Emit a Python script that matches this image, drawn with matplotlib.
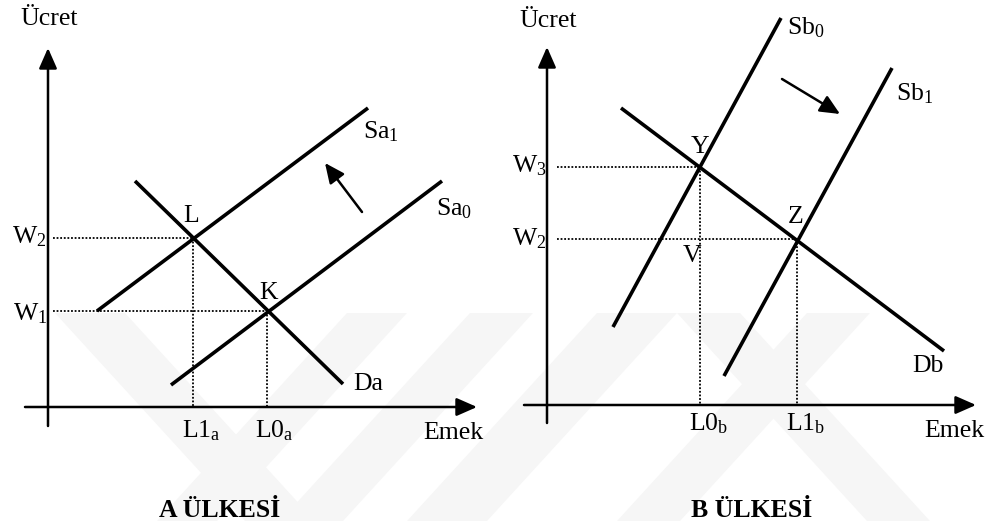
import matplotlib
matplotlib.use("Agg")
import matplotlib.pyplot as plt
from matplotlib.patches import Polygon

plt.rcParams["font.family"] = ["Liberation Serif", "DejaVu Serif"]
plt.rcParams["mathtext.fontset"] = "custom"
plt.rcParams["mathtext.rm"] = "Liberation Serif"
plt.rcParams["mathtext.it"] = "Liberation Serif:italic"

# --- diagram geometry (pixel coords, y down) ---
# panel A
axA_origin = (48, 407)
axA_ytop = 48
axA_xend = 477
sa1 = ([97, 368], [311, 108])
sa0 = ([171, 442], [385, 181])
da = ([135, 343], [181, 384])
pt_L = (193, 238)
pt_K = (267, 311)
shiftA = ((362, 212), (325, 163))

# panel B
axB_origin = (547, 405)
axB_ytop = 47
axB_xend = 976
sb0 = ([613, 781], [327, 18])
sb1 = ([724, 892], [376, 68])
db = ([621, 944], [108, 351])
pt_Y = (700, 167)
pt_Z = (797, 239)
shiftB = ((782, 79), (840, 114))

# faint watermark stripes (top x-range at y=313)
wm_back = [(55, 125), (677, 740)]
wm_fwd = [(347, 407), (470, 533), (597, 677), (807, 870)]

fig = plt.figure(figsize=(9.94, 5.21), dpi=100)
ax = fig.add_axes([0, 0, 1, 1])
ax.set_xlim(0, 994)
ax.set_ylim(521, 0)
ax.axis("off")

# watermark
for x0, x1 in wm_back:
    ax.add_patch(Polygon([(x0, 313), (x1, 313), (x1 + 190, 521), (x0 + 190, 521)],
                         closed=True, fc="#f6f6f6", ec="none", zorder=0))
for x0, x1 in wm_fwd:
    ax.add_patch(Polygon([(x0, 313), (x1, 313), (x1 - 190, 521), (x0 - 190, 521)],
                         closed=True, fc="#f6f6f6", ec="none", zorder=0))

def axes_arrows(origin, ytop, xend, xstart, ybottom):
    ox, oy = origin
    ax.annotate("", xy=(ox, ytop), xytext=(ox, ybottom),
                arrowprops=dict(arrowstyle="-|>,head_length=1.25,head_width=0.55",
                                mutation_scale=10, lw=1.8, color="black",
                                shrinkA=0, shrinkB=0))
    ax.annotate("", xy=(xend, oy), xytext=(xstart, oy),
                arrowprops=dict(arrowstyle="-|>,head_length=1.25,head_width=0.55",
                                mutation_scale=10, lw=1.8, color="black",
                                shrinkA=0, shrinkB=0))

axes_arrows(axA_origin, axA_ytop, axA_xend, 25, 426)
axes_arrows(axB_origin, axB_ytop, axB_xend, 524, 423)

dot = dict(color="black", lw=1.3, linestyle=(0, (1, 1)))
thick = dict(color="black", lw=2.6, solid_capstyle="butt")

# panel A dotted guides
ax.plot([53, pt_L[0]], [pt_L[1], pt_L[1]], **dot)
ax.plot([53, pt_K[0]], [pt_K[1], pt_K[1]], **dot)
ax.plot([pt_L[0], pt_L[0]], [pt_L[1], axA_origin[1]], **dot)
ax.plot([pt_K[0], pt_K[0]], [pt_K[1], axA_origin[1]], **dot)

# panel B dotted guides
ax.plot([557, pt_Y[0]], [pt_Y[1], pt_Y[1]], **dot)
ax.plot([557, pt_Z[0]], [pt_Z[1], pt_Z[1]], **dot)
ax.plot([pt_Y[0], pt_Y[0]], [pt_Y[1], axB_origin[1]], **dot)
ax.plot([pt_Z[0], pt_Z[0]], [pt_Z[1], axB_origin[1]], **dot)

for xs, ys in (sa1, sa0, da, sb0, sb1, db):
    ax.plot(xs, ys, **thick)

for (x0, y0), (x1, y1) in (shiftA, shiftB):
    ax.annotate("", xy=(x1, y1), xytext=(x0, y0),
                arrowprops=dict(arrowstyle="-|>,head_length=1.2,head_width=0.55",
                                mutation_scale=10, lw=1.8, color="black",
                                shrinkA=0, shrinkB=0))

fs = 18.5
labels = [
    # text, x, y(baseline), ha
    ("Ücret", 20, 25, "left"),
    (r"W$_\mathrm{2}$", 12, 243, "left"),
    (r"W$_\mathrm{1}$", 13, 320, "left"),
    ("L", 191, 222, "center"),
    ("K", 269, 299, "center"),
    (r"Sa$_\mathrm{1}$", 363, 138, "left"),
    (r"Sa$_\mathrm{0}$", 436, 215, "left"),
    ("Da", 353, 390, "left"),
    (r"L1$_\mathrm{a}$", 182, 437, "left"),
    (r"L0$_\mathrm{a}$", 255, 437, "left"),
    ("Emek", 423, 439, "left"),
    ("Ücret", 519, 27, "left"),
    (r"Sb$_\mathrm{0}$", 787, 34, "left"),
    (r"Sb$_\mathrm{1}$", 896, 100, "left"),
    ("Y", 700, 153, "center"),
    ("Z", 796, 223, "center"),
    ("V", 692, 262, "center"),
    (r"W$_\mathrm{3}$", 512, 172, "left"),
    (r"W$_\mathrm{2}$", 512, 245, "left"),
    ("Db", 912, 372, "left"),
    (r"L0$_\mathrm{b}$", 689, 430, "left"),
    (r"L1$_\mathrm{b}$", 786, 430, "left"),
    ("Emek", 924, 437, "left"),
]
for t, x, y, ha in labels:
    ax.text(x, y, t, fontsize=fs, ha=ha, va="baseline")

ax.text(220, 517, "A ÜLKESİ", fontsize=fs, fontweight="bold", ha="center", va="baseline")
ax.text(752, 517, "B ÜLKESİ", fontsize=fs, fontweight="bold", ha="center", va="baseline")

fig.savefig("out.png", dpi=100)
